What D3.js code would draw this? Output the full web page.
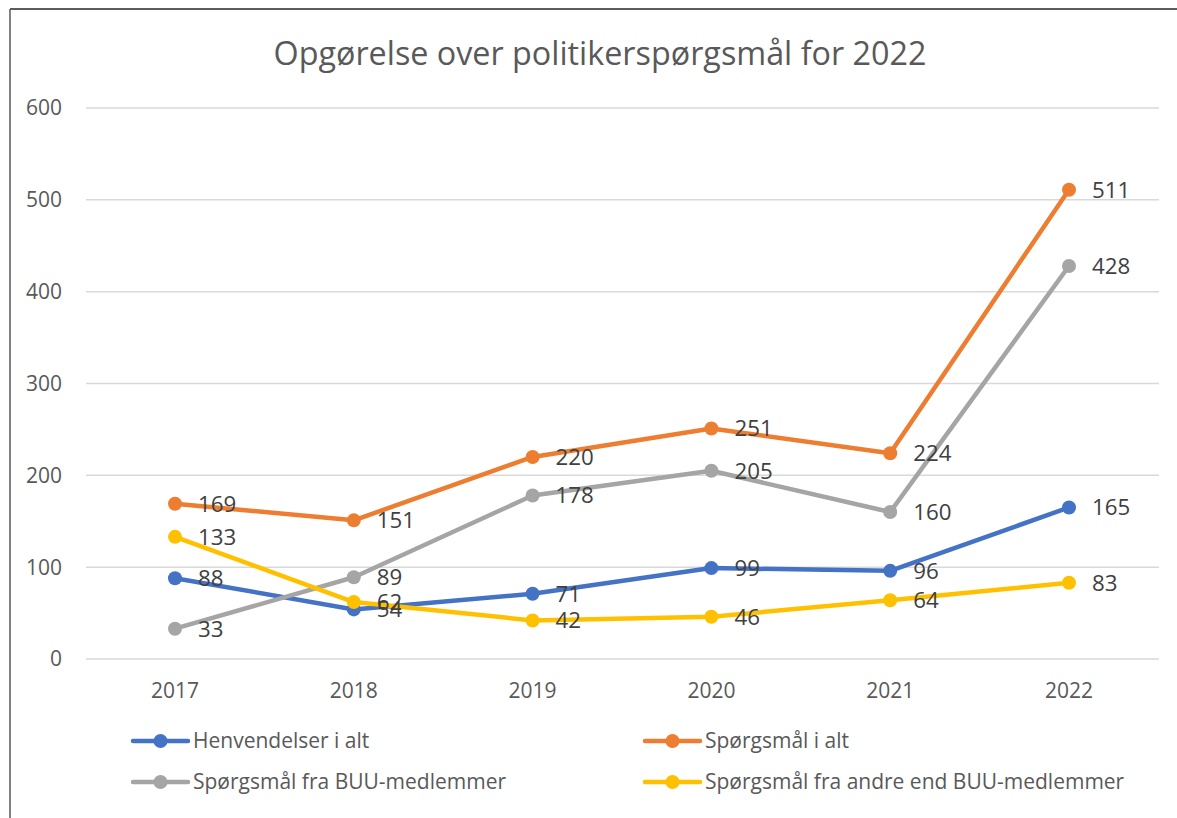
<!DOCTYPE html>
<html lang="da">
<head>
<meta charset="UTF-8">
<title>Opgørelse over politikerspørgsmål for 2022</title>
<script src="https://d3js.org/d3.v7.min.js"></script>
<style>
  body { margin: 0; background: #fff; }
  text { font-family: "Open Sans", sans-serif; fill: #595959; }
</style>
</head>
<body>
<script>
// chart data
const years = ["2017", "2018", "2019", "2020", "2021", "2022"];
const henvendelser = [88, 54, 71, 99, 96, 165];
const spmIAlt = [169, 151, 220, 251, 224, 511];
const spmBUU = [33, 89, 178, 205, 160, 428];
const spmAndre = [133, 62, 42, 46, 64, 83];
const seriesNames = ["Henvendelser i alt", "Spørgsmål i alt", "Spørgsmål fra BUU-medlemmer", "Spørgsmål fra andre end BUU-medlemmer"];
const yTicks = [0, 100, 200, 300, 400, 500, 600];

const colors = ["#4472C4", "#ED7D31", "#A5A5A5", "#FFC000"];
const series = [henvendelser, spmIAlt, spmBUU, spmAndre].map((vals, i) => ({
    name: seriesNames[i], color: colors[i], values: vals
}));

const width = 1177, height = 818;
const svg = d3.select("body").append("svg")
    .attr("width", width)
    .attr("height", height);

// frame (only left and top edges are visible in the picture)
svg.append("line").attr("x1", 10).attr("y1", 9).attr("x2", width).attr("y2", 9)
    .attr("stroke", "#262626").attr("stroke-width", 1.5);
svg.append("line").attr("x1", 10).attr("y1", 9).attr("x2", 10).attr("y2", height)
    .attr("stroke", "#595959").attr("stroke-width", 1.5);

// title
svg.append("text")
    .attr("x", 600).attr("y", 65)
    .attr("text-anchor", "middle")
    .style("font-size", "32.3px")
    .text("Opgørelse over politikerspørgsmål for 2022");

const plotLeft = 86, plotRight = 1159;
const x = d3.scalePoint().domain(years).range([175, 1069]);
const y = d3.scaleLinear().domain([0, 600]).range([659, 108]);

// gridlines + y labels
svg.append("g").selectAll("line")
    .data(yTicks).join("line")
    .attr("x1", plotLeft).attr("x2", plotRight)
    .attr("y1", d => y(d)).attr("y2", d => y(d))
    .attr("stroke", "#D9D9D9").attr("stroke-width", 1.5);

svg.append("g").selectAll("text")
    .data(yTicks).join("text")
    .attr("x", 62).attr("y", d => y(d))
    .attr("dy", "0.35em")
    .attr("text-anchor", "end")
    .style("font-size", "21px")
    .text(d => d);

// x labels
svg.append("g").selectAll("text")
    .data(years).join("text")
    .attr("x", d => x(d)).attr("y", 698)
    .attr("text-anchor", "middle")
    .style("font-size", "21px")
    .text(d => d);

// lines and markers
const line = d3.line().x((d, i) => x(years[i])).y(d => y(d));

series.forEach(s => {
    const g = svg.append("g");
    g.append("path")
        .attr("d", line(s.values))
        .attr("fill", "none")
        .attr("stroke", s.color)
        .attr("stroke-width", 4.5)
        .attr("stroke-linejoin", "round")
        .attr("stroke-linecap", "round");
    g.selectAll("circle")
        .data(s.values).join("circle")
        .attr("cx", (d, i) => x(years[i]))
        .attr("cy", d => y(d))
        .attr("r", 7)
        .attr("fill", s.color);
});

// data labels (drawn after all lines, like Excel)
series.forEach(s => {
    svg.append("g").selectAll("text")
        .data(s.values).join("text")
        .attr("x", (d, i) => x(years[i]) + 23)
        .attr("y", d => y(d))
        .attr("dy", "0.35em")
        .style("font-size", "22.3px")
        .style("fill", "#404040")
        .text(d => d);
});

// legend
const legendPos = [[133, 741], [645, 741], [133, 782], [645, 782]];
series.forEach((s, i) => {
    const [lx, ly] = legendPos[i];
    const g = svg.append("g").attr("transform", `translate(${lx},${ly})`);
    g.append("line").attr("x1", 0).attr("x2", 55).attr("y1", 0).attr("y2", 0)
        .attr("stroke", s.color).attr("stroke-width", 4.5).attr("stroke-linecap", "round");
    g.append("circle").attr("cx", 27.5).attr("cy", 0).attr("r", 7).attr("fill", s.color);
    g.append("text").attr("x", 60).attr("y", 0).attr("dy", "0.35em")
        .style("font-size", "21px")
        .text(s.name);
});
</script>
</body>
</html>
